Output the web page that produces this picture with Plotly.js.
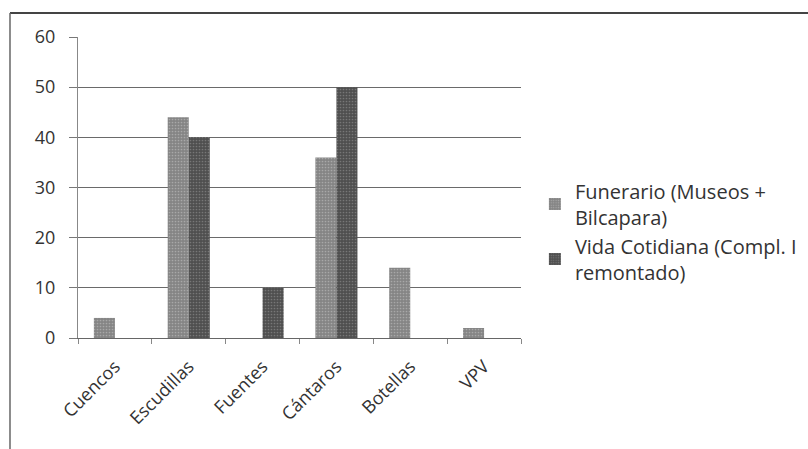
<!DOCTYPE html>
<html>
<head>
<meta charset="utf-8">
<script src="https://cdn.plot.ly/plotly-3.0.1.min.js"></script>
<style>
  html, body { margin: 0; padding: 0; background: #fff; }
  #chart { width: 808px; height: 449px; }
</style>
</head>
<body>
<div id="chart"></div>
<script>
// Vessel categories and counts per context
const categories = ["Cuencos", "Escudillas", "Fuentes", "Cántaros", "Botellas", "VPV"];
const funerario = [4, 44, 0, 36, 14, 2];
const vidaCotidiana = [0, 40, 10, 50, 0, 0];
const seriesNames = ["Funerario (Museos +<br>Bilcapara)", "Vida Cotidiana (Compl. I<br>remontado)"];
const yTicks = [0, 10, 20, 30, 40, 50, 60];

const family = "Open Sans, Lato, sans-serif";
const tickFont = { family: family, size: 18, color: "#333" };

const traces = [
  {
    type: "bar", name: seriesNames[0], x: categories, y: funerario,
    marker: {
      color: "#8a8a8a", line: { width: 0 },
      pattern: { shape: ".", size: 3, solidity: 0.25, fgcolor: "#a8a8a8", bgcolor: "#858585" }
    }
  },
  {
    type: "bar", name: seriesNames[1], x: categories, y: vidaCotidiana,
    marker: {
      color: "#555", line: { width: 0 },
      pattern: { shape: ".", size: 3, solidity: 0.25, fgcolor: "#777", bgcolor: "#4f4f4f" }
    }
  }
];

const layout = {
  width: 808, height: 449,
  margin: { l: 78, r: 287, t: 37, b: 111 },
  paper_bgcolor: "#fff", plot_bgcolor: "#fff",
  font: tickFont,
  barmode: "group",
  bargap: 0.43, bargroupgap: 0,
  showlegend: true,
  legend: {
    xref: "container", yref: "container",
    x: 0.662, y: 0.618, xanchor: "left", yanchor: "top",
    font: { family: family, size: 20, color: "#333" },
    tracegroupgap: 7, bgcolor: "rgba(0,0,0,0)"
  },
  xaxis: {
    type: "category",
    tickangle: -45,
    showline: true, linecolor: "#666", linewidth: 1,
    ticks: "outside", tickson: "boundaries", ticklen: 5, tickcolor: "#888",
    ticklabelstandoff: 10,
    showgrid: false, zeroline: false,
    tickfont: tickFont
  },
  yaxis: {
    range: [0, 60], tickvals: yTicks,
    showline: true, linecolor: "#888", linewidth: 1,
    ticks: "outside", ticklen: 8, tickcolor: "#777",
    ticklabelstandoff: 10,
    showgrid: true, gridcolor: "#6a6a6a", gridwidth: 1,
    zeroline: false,
    tickfont: tickFont
  },
  shapes: [
    // chart frame (top and left edges)
    { type: "line", xref: "paper", yref: "paper", x0: -0.1535, x1: 1.65, y0: 1.0797, y1: 1.0797,
      line: { color: "#444", width: 2 } },
    { type: "line", xref: "paper", yref: "paper", x0: -0.1535, x1: -0.1535, y0: 1.0797, y1: -0.37,
      line: { color: "#666", width: 1.5 } }
  ]
};

Plotly.newPlot("chart", traces, layout, { displayModeBar: false, staticPlot: true });
</script>
</body>
</html>
